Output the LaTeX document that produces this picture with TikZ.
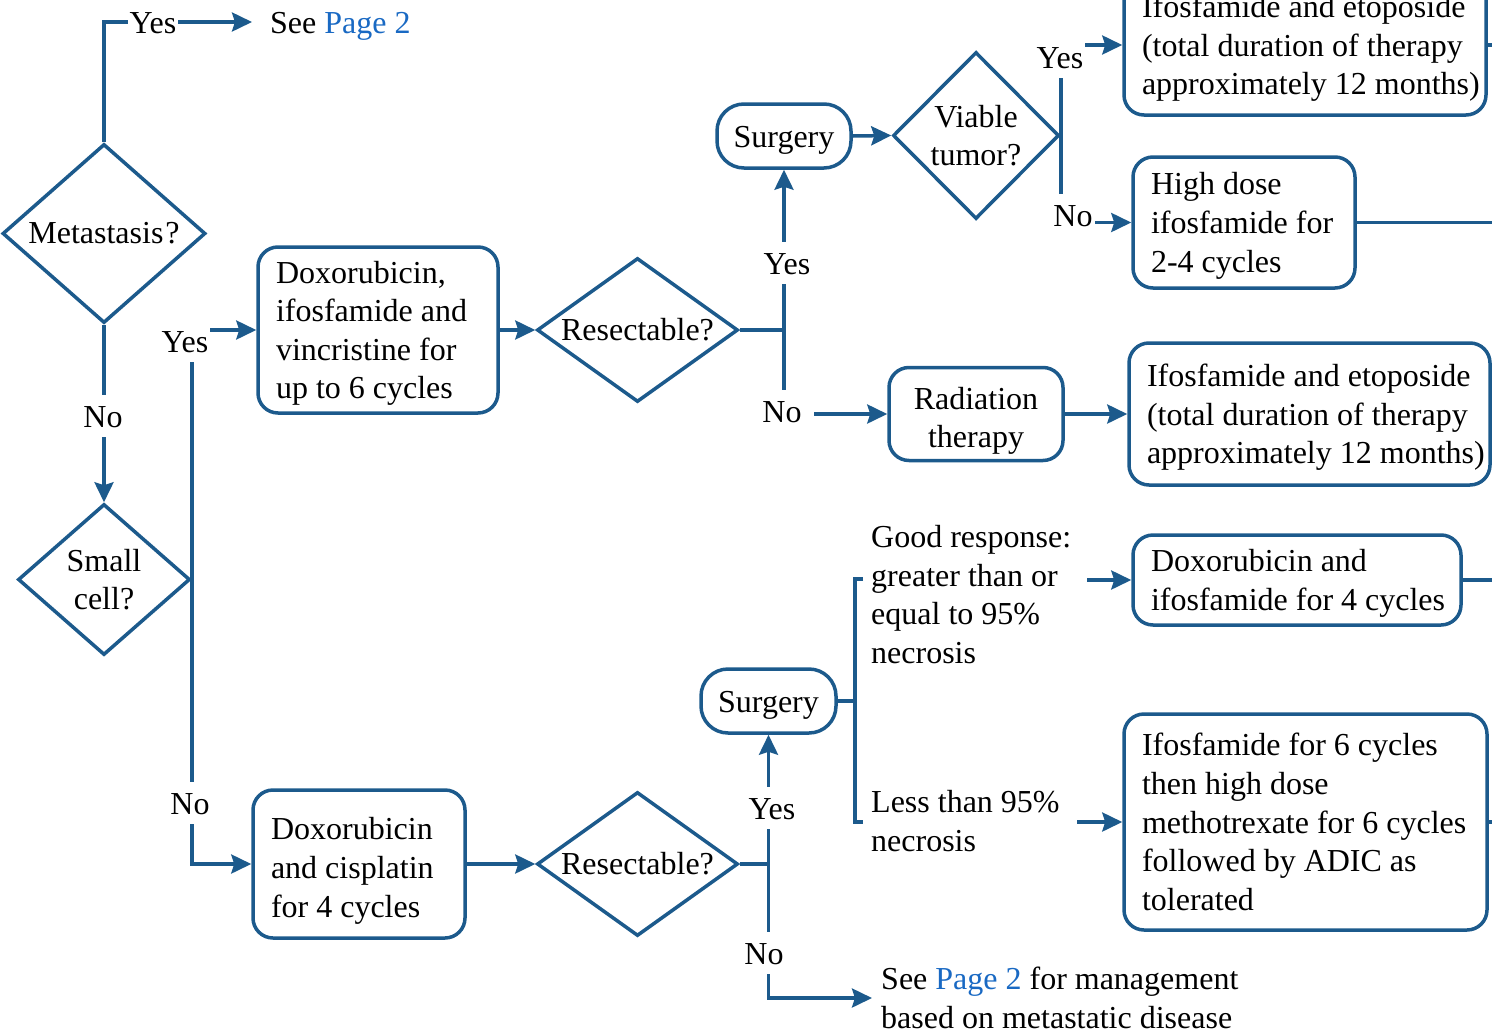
\documentclass[tikz,border=0pt]{standalone}
\usepackage{fontspec}
\setmainfont{Liberation Serif}
\usetikzlibrary{shapes.geometric,arrows.meta,calc}
\definecolor{lineblue}{RGB}{28,90,140}
\definecolor{linkblue}{RGB}{25,105,195}
\newcommand{\myfs}{\fontsize{32}{38.6}\selectfont}
\newcommand{\lnb}[1]{\mbox{#1}}
\newcommand{\topst}{\rule{0pt}{30pt}}
\newcommand{\topstlow}{\rule{0pt}{37pt}}
\newcommand{\botst}{\rule[-8pt]{0pt}{8pt}}
\begin{document}
\begin{tikzpicture}[x=1pt,y=-1pt,
  every node/.style={font=\myfs, text=black},
  conn/.style={draw=lineblue, line width=3.5pt},
  arr/.style={conn, -{Stealth[length=20pt,width=19pt,inset=3pt]}},
  box/.style={draw=lineblue, line width=3.5pt, rounded corners=20pt, align=flush left, inner xsep=18pt, inner ysep=0pt,
    execute at begin node=\topst, execute at end node=\botst},
  pill/.style={draw=lineblue, line width=3.5pt, rounded corners=27pt, align=center, inner sep=0pt, minimum width=134pt, minimum height=64pt,
    execute at begin node=\topst, execute at end node=\botst},
  dia/.style={draw=lineblue, line width=3.5pt, diamond, inner sep=0pt, align=center},
  lbl/.style={fill=white, inner xsep=2pt, inner ysep=10pt, text height=22pt, text depth=0pt},
  txt/.style={anchor=west, align=left, inner sep=0pt}]
\useasboundingbox (0,0) rectangle (1492,1031);

% decisions
\node[dia, minimum width=203pt, minimum height=179pt, aspect=1.134] (meta) at (104,233.5) {Metastasis\kern2pt?};
\node[dia, minimum width=172pt, minimum height=151pt, aspect=1.139] (small) at (104,579.5) {Small\\cell?};
\node[dia, minimum width=201pt, minimum height=144pt, aspect=1.396] (re1) at (637.5,330) {Resectable?};
\node[dia, minimum width=201pt, minimum height=144pt, aspect=1.396] (re2) at (637.5,864) {Resectable?};
\node[dia, minimum width=166pt, minimum height=167pt, aspect=1] (via) at (976,135.5) {Viable\\tumor?};

% boxes
\node[box, text width=204pt, minimum height=166pt] (b1) at (378,330)
  {\lnb{Doxorubicin,}\\\lnb{ifosfamide and}\\\lnb{vincristine for}\\\lnb{up to 6 cycles}};
\node[box, text width=176pt, minimum height=148pt, execute at begin node=\topstlow] (b2) at (359,864)
  {\lnb{Doxorubicin}\\\lnb{and cisplatin}\\\lnb{for 4 cycles}};
\node[pill] (surg1) at (784,136) {Surgery};
\node[pill, minimum width=135pt] (surg2) at (768.5,701) {Surgery};
\node[box, text width=326pt, minimum height=140pt] (tb) at (1305,45)
  {\lnb{Ifosfamide and etoposide}\\\lnb{(total duration of therapy}\\\lnb{approximately 12 months)}};
\node[box, text width=186pt, minimum height=131pt] (hd) at (1244,222.5)
  {\lnb{High dose}\\\lnb{ifosfamide for}\\\lnb{2-4 cycles}};
\node[box, align=flush center, text width=138pt, minimum height=93pt, execute at begin node=\topstlow] (rad) at (976,414)
  {Radiation\\therapy};
\node[box, text width=325pt, minimum height=142pt] (ie2) at (1309.5,414)
  {\lnb{Ifosfamide and etoposide}\\\lnb{(total duration of therapy}\\\lnb{approximately 12 months)}};
\node[box, text width=292pt, minimum height=90pt] (di) at (1297,580)
  {\lnb{Doxorubicin and}\\\lnb{ifosfamide for 4 cycles}};
\node[box, text width=327pt, minimum height=216pt] (if6) at (1305.5,822)
  {\lnb{Ifosfamide for 6 cycles}\\\lnb{then high dose}\\\lnb{methotrexate for 6 cycles}\\\lnb{followed by ADIC as}\\\lnb{tolerated}};

% plain texts
\node[anchor=west, inner xsep=18pt, inner ysep=0pt, text height=22pt, text depth=0pt] (sp1) at (252,22)
  {See \textcolor{linkblue}{Page 2}};
\node[anchor=west, align=left, inner xsep=9pt, inner ysep=0pt] (sp2) at (872,998)
  {See \textcolor{linkblue}{Page 2} for management\\based on metastatic disease};
\node[txt] (good) at (871,594.5) {Good response:\\greater than or\\equal to 95\%\\necrosis};
\node[txt] (less) at (871,821) {Less than 95\%\\necrosis};

% free ends
\coordinate (gt) at (863,579);
\coordinate (lt) at (863,822);
\coordinate (bj) at (855,701);
\coordinate (ga) at (1087,580);
\coordinate (la) at (1077,822);

% connectors
\draw[arr] (meta.north) |- (sp1.west);
\draw[arr] (meta.south) -- (small.north);
\draw[arr] (small.east) |- (b1.west);
\draw[arr] (small.east) |- (b2.west);
\draw[arr] (b1.east) -- (re1.west);
\draw[arr] (re1.east) -| (surg1.south);
\draw[arr] (re1.east) -- (re1.east -| surg1.south) |- (rad.west);
\draw[arr] (surg1.east) -- (via.west);
\draw[arr] (via.east) |- (tb.west);
\draw[arr] (via.east) |- (hd.west);
\draw[conn] (tb.east) -- ++(20,0);
\draw[conn] (hd.east) -- ++(150,0);
\draw[arr] (rad.east) -- (ie2.west);
\draw[arr] (b2.east) -- (re2.west);
\draw[arr] (re2.east) -| (surg2.south);
\draw[arr] (re2.east) -- (re2.east -| surg2.south) |- (sp2.west);
\draw[conn] (surg2.east) -- (bj);
\draw[conn] (gt) -| (bj) |- (lt);
\draw[arr] (ga) -- (di.west);
\draw[arr] (la) -- (if6.west);
\draw[conn] (di.east) -- ++(40,0);
\draw[conn] (if6.east) -- ++(20,0);

% branch labels
\node[lbl] (y1) at (153,22) {Yes};
\node[lbl] (n1) at (103,416) {No};
\node[lbl] (y2) at (185,341) {Yes};
\node[lbl] (n2) at (190,803) {No};
\node[lbl] (y3) at (787,263) {Yes};
\node[lbl, inner xsep=12pt] (n3) at (782,411) {No};
\node[lbl] (y4) at (1060,57) {Yes};
\node[lbl] (n4) at (1073,215) {No};
\node[lbl] (y5) at (772,808) {Yes};
\node[lbl] (n5) at (764,953) {No};
\end{tikzpicture}
\end{document}
